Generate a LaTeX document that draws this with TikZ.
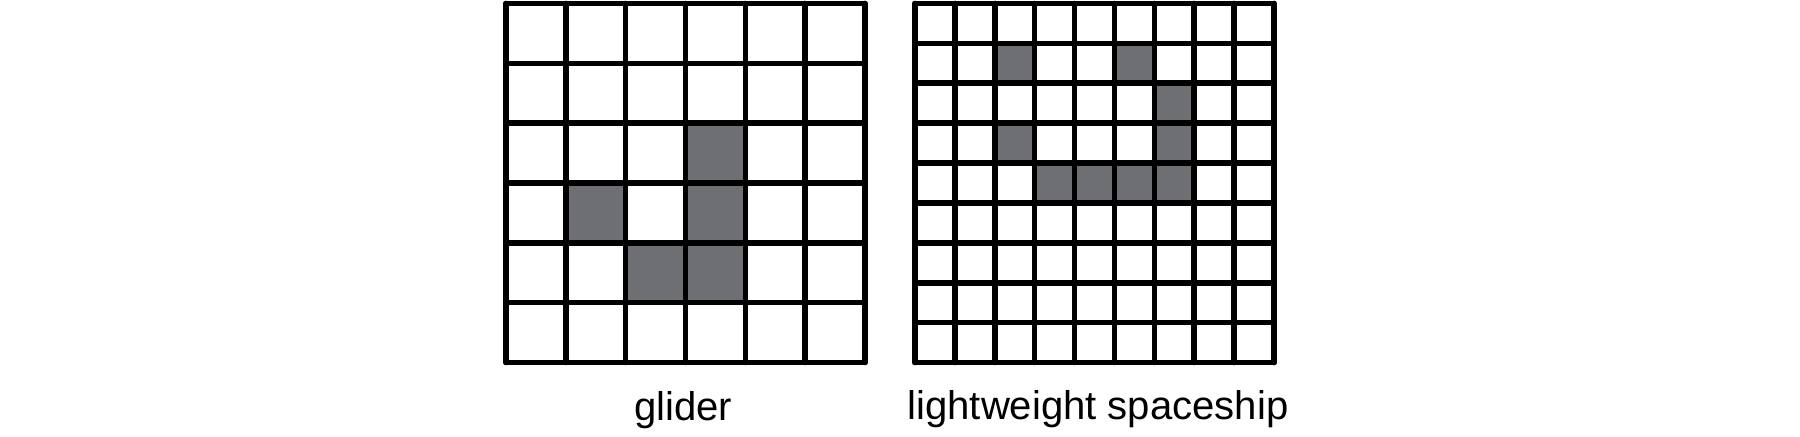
\documentclass[tikz,border=0pt]{standalone}
\usepackage{fontspec}
\setmainfont{Liberation Sans}
\definecolor{livecell}{RGB}{110,111,115}
\tikzset{
  board/.style={line width=1.6pt, line cap=round},
  alive/.style={fill=livecell},
  caption/.style={anchor=base, font=\fontsize{11.4}{13}\selectfont}
}
\begin{document}
\begin{tikzpicture}
      \useasboundingbox (0,0) rectangle (18,-4.37);
      % glider, 6x6
      \begin{scope}[shift={(5.06,-0.035)}, x=0.5983cm, y=-0.5983cm]
        \fill[alive] (3,2) rectangle (4,3);
        \fill[alive] (1,3) rectangle (2,4);
        \fill[alive] (3,3) rectangle (4,4);
        \fill[alive] (2,4) rectangle (3,5);
        \fill[alive] (3,4) rectangle (4,5);
        \foreach \k in {0,...,6} {
          \draw[board] (\k,0) -- (\k,6);
          \draw[board] (0,\k) -- (6,\k);
        }
        \coordinate (gliderbottom) at (3,6);
      \end{scope}
      % lightweight spaceship, 9x9
      \begin{scope}[shift={(9.15,-0.035)}, x=0.3989cm, y=-0.3989cm]
        \fill[alive] (2,1) rectangle (3,2);
        \fill[alive] (5,1) rectangle (6,2);
        \fill[alive] (6,2) rectangle (7,3);
        \fill[alive] (2,3) rectangle (3,4);
        \fill[alive] (6,3) rectangle (7,4);
        \fill[alive] (3,4) rectangle (4,5);
        \fill[alive] (4,4) rectangle (5,5);
        \fill[alive] (5,4) rectangle (6,5);
        \fill[alive] (6,4) rectangle (7,5);
        \foreach \k in {0,...,9} {
          \draw[board] (\k,0) -- (\k,9);
          \draw[board] (0,\k) -- (9,\k);
        }
        \coordinate (lwssbottom) at (4.5,9);
      \end{scope}
      \node[caption] (gliderlabel) at (6.83,-4.21) {glider};
      \node[caption] (lwsslabel) at (10.98,-4.20) {lightweight spaceship};
    \end{tikzpicture}
\end{document}
